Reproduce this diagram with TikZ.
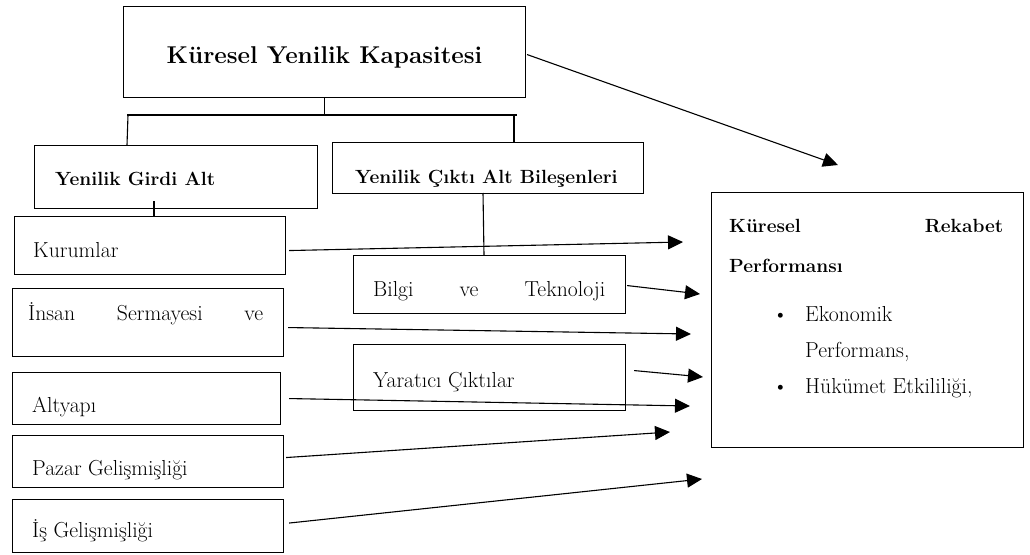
\documentclass[tikz,border=0pt]{standalone}
\usetikzlibrary{arrows.meta}
\newcommand\regf{\fontsize{21.7}{26}\selectfont}
\newcommand\subf{\fontsize{19.1}{23}\selectfont\bfseries}
\newcommand\titf{\fontsize{24.3}{29}\selectfont\bfseries}
\begin{document}
\begin{tikzpicture}[x=1pt,y=-1pt,
  boxn/.style={draw,line width=1.1pt,inner sep=0pt,anchor=north west},
  txt/.style={inner sep=0pt,anchor=base west,font=\regf},
  conn/.style={line width=1.1pt},
  arr/.style={line width=1.1pt,-{Triangle[length=15pt,width=14pt]}}]
\useasboundingbox (0,0) rectangle (1030,554);
% boxes
\node[boxn,minimum width=402pt,minimum height=91pt] (top) at (123,6) {};
\node[boxn,minimum width=283pt,minimum height=63pt] (girdi) at (34,145) {};
\node[boxn,minimum width=311pt,minimum height=51pt] (cikti) at (332,142) {};
\node[boxn,minimum width=271pt,minimum height=58pt] (kurum) at (14,216) {};
\node[boxn,minimum width=271pt,minimum height=68pt] (insan) at (12,288) {};
\node[boxn,minimum width=268pt,minimum height=52pt] (alty) at (12,372) {};
\node[boxn,minimum width=271pt,minimum height=52pt] (pazar) at (12,435) {};
\node[boxn,minimum width=271pt,minimum height=53pt] (is) at (12,499) {};
\node[boxn,minimum width=272pt,minimum height=58pt] (bilgi) at (353,255) {};
\node[boxn,minimum width=272pt,minimum height=66pt] (yarat) at (353,344) {};
\node[boxn,minimum width=312pt,minimum height=255pt] (kr) at (711,192) {};
% texts
\node[inner sep=0pt,anchor=base,font=\titf] (ttop) at (324.5,63) {Küresel Yenilik Kapasitesi};
\node[txt,font=\subf] (tgirdi) at (55,185) {Yenilik Girdi Alt};
\node[txt,font=\subf] (tcikti) at (355,183) {Yenilik Çıktı Alt Bileşenleri};
\node[txt] (tkurum) at (33,257) {Kurumlar};
\node[txt] (tinsan) at (28,320) {\makebox[235pt]{İnsan\hfill Sermayesi\hfill ve}};
\node[txt] (talty) at (32,412) {Altyapı};
\node[txt] (tpazar) at (32,475) {Pazar Gelişmişliği};
\node[txt] (tis) at (32,537) {İş Gelişmişliği};
\node[txt] (tbilgi) at (373,296) {\makebox[232pt]{Bilgi\hfill ve\hfill Teknoloji}};
\node[txt] (tyarat) at (373,387) {Yaratıcı Çıktılar};
\node[txt,font=\subf] (tkr1) at (729,232) {\makebox[274pt]{Küresel\hfill Rekabet}};
\node[txt,font=\subf] (tkr2) at (729,272) {Performansı};
\node[txt] (tkr3) at (805,321) {\llap{\textbullet\hspace{17pt}}Ekonomik};
\node[txt] (tkr4) at (805,357) {Performans,};
\node[txt] (tkr5) at (805,393) {\llap{\textbullet\hspace{17pt}}Hükümet Etkililiği,};
% tree connectors
\coordinate (barL) at (127,115);
\coordinate (barR) at (517,115);
\coordinate (dropL) at (128,115);
\coordinate (dropR) at (514,115);
\coordinate (gk) at (154,201);
\coordinate (ck) at (483,193);
\draw[conn] (barL) -- (barR);
\draw[conn] (top.south) -- (top.south |- barL);
\draw[conn] (dropL) -- (girdi.north -| barL);
\draw[conn] (dropR) -- (dropR |- cikti.north);
\draw[conn] (gk) -- (gk |- kurum.north);
\draw[conn] (ck) -- ([xshift=1pt]ck |- bilgi.north);
% arrow ends
\coordinate (eTop) at (838,165);
\coordinate (eKurum) at (683,242);
\coordinate (eBilgi) at (700,294);
\coordinate (eInsan) at (691,334);
\coordinate (eYarat) at (703,377);
\coordinate (eAlty) at (690,406);
\coordinate (ePazar) at (670,432);
\coordinate (eIs) at (702,479);
\draw[arr] ([shift={(1,2.5)}]top.east) -- (eTop);
\draw[arr] ([shift={(3,5)}]kurum.east) -- (eKurum);
\draw[arr] ([shift={(1,1)}]bilgi.east) -- (eBilgi);
\draw[arr] ([shift={(4,5)}]insan.east) -- (eInsan);
\draw[arr] ([shift={(8,-7)}]yarat.east) -- (eYarat);
\draw[arr] ([shift={(8,0)}]alty.east) -- (eAlty);
\draw[arr] ([shift={(2,-4)}]pazar.east) -- (ePazar);
\draw[arr] ([shift={(5,-3)}]is.east) -- (eIs);
\end{tikzpicture}
\end{document}
